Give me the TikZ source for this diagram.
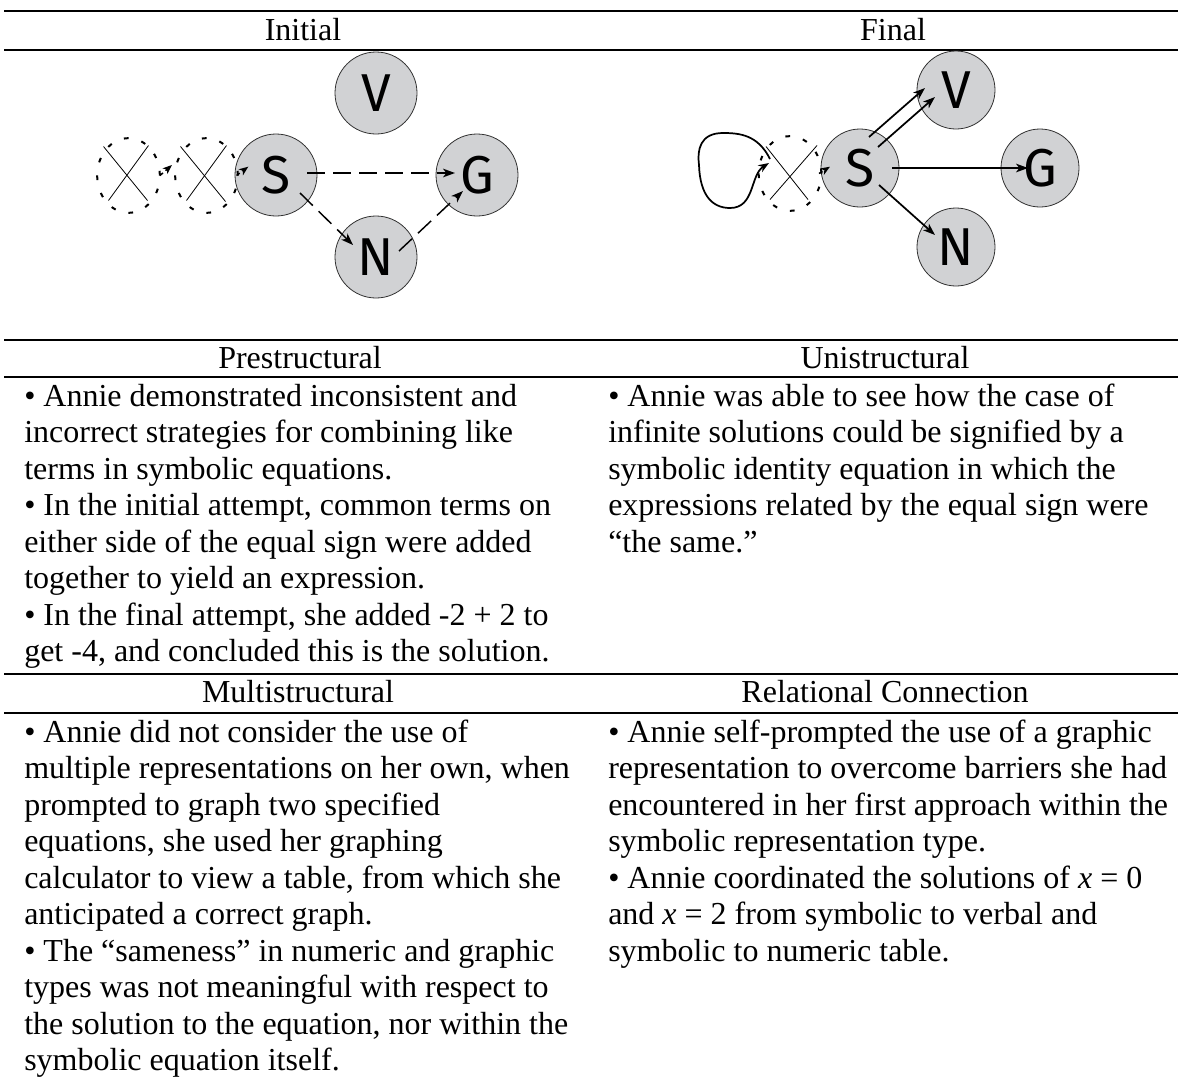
\documentclass[tikz,border=0pt]{standalone}
\usepackage{fontspec}
\setmainfont{Liberation Serif}
\newfontfamily\circfont{Fira Sans}
\usetikzlibrary{arrows.meta,shapes.geometric,calc}
\definecolor{circgray}{HTML}{D1D2D4}
\definecolor{circline}{HTML}{333333}
\begin{document}
\begin{tikzpicture}[x=0.75pt,y=-0.75pt,
  circ/.style={circle, draw=circline, line width=0.6pt, fill=circgray, minimum size=61.5pt, inner sep=0pt, font=\circfont\fontsize{40}{40}\selectfont},
  circf/.style={circ, minimum size=58.5pt},
  ghost/.style={ellipse, draw=black, line width=1.5pt, dash pattern=on 3.5pt off 10pt, minimum width=47pt, minimum height=56pt, inner sep=0pt},
  xline/.style={line width=0.6pt},
  darr/.style={line width=1.1pt, dash pattern=on 13.5pt off 6pt, -{Stealth[length=9pt,width=6.5pt,inset=2.5pt]}},
  sdarr/.style={line width=1.1pt, dash pattern=on 3pt off 2.5pt, -{Stealth[length=7pt,width=5.5pt,inset=2pt]}},
  sarr/.style={line width=1.3pt, -{Stealth[length=9pt,width=6.5pt,inset=2.5pt]}},
  tarr/.style={line width=0.8pt, -{Stealth[length=9pt,width=6.5pt,inset=2.5pt]}},
  larr/.style={line width=1.3pt, -{Stealth[length=8pt,width=6pt,inset=2.5pt]}},
  rulel/.style={line width=1.3pt},
  txt/.style={anchor=base west, inner sep=0pt, font=\fontsize{24}{27.4}\selectfont},
  hdr/.style={anchor=base, inner sep=0pt, font=\fontsize{24}{27.4}\selectfont}
]
\useasboundingbox[fill=white] (0,0) rectangle (1178,1078);

% rules
\coordinate (r1a) at (4,11);   \coordinate (r1b) at (1178,11);
\coordinate (r2a) at (4,50);   \coordinate (r2b) at (1178,50);
\coordinate (r3a) at (4,340);  \coordinate (r3b) at (1178,340);
\coordinate (r4a) at (4,377);  \coordinate (r4b) at (1178,377);
\coordinate (r5a) at (4,674);  \coordinate (r5b) at (1178,674);
\coordinate (r6a) at (4,713);  \coordinate (r6b) at (1178,713);
\draw[rulel] (r1a) -- (r1b);
\draw[rulel] (r2a) -- (r2b);
\draw[rulel] (r3a) -- (r3b);
\draw[rulel] (r4a) -- (r4b);
\draw[rulel] (r5a) -- (r5b);
\draw[rulel] (r6a) -- (r6b);

% headers
\node[hdr] (hInit) at (303,40) {Initial};
\node[hdr] (hFin) at (893,40) {Final};
\node[hdr] (hPre) at (300,368) {Prestructural};
\node[hdr] (hUni) at (885,368) {Unistructural};
\node[hdr] (hMul) at (298,702) {Multistructural};
\node[hdr] (hRel) at (885,702) {Relational Connection};

% ---------- Initial diagram ----------
\node[circ] (V1) at (376,93) {V};
\node[circ] (S1) at (276,175) {S};
\node[circ] (G1) at (477,175) {G};
\node[circ] (N1) at (376,257) {N};
\node[ghost] (X1) at (128.5,175.5) {};
\node[ghost] (X2) at (206.5,175.5) {};
\draw[xline] ($(X1)+(-25,-29)$) -- ($(X1)+(19,25)$);
\draw[xline] ($(X1)+(20,-30)$) -- ($(X1)+(-20,25)$);
\draw[xline] ($(X2)+(-26,-29)$) -- ($(X2)+(19,26)$);
\draw[xline] ($(X2)+(20,-30)$) -- ($(X2)+(-20,25)$);
\draw[sdarr] ($(X1)+(31.5,0)$) -- ($(X2)+(-34.5,-10.5)$);
\draw[sdarr] ($(X2)+(30,0)$) -- ($(S1)+(-27.7,-8.3)$);
\draw[darr] ($(S1)+(31,-2)$) -- ($(G1)+(-22,-2)$);
\draw[darr] ($(S1)+(24,18)$) -- ($(N1)+(-23,-12)$);
\draw[darr] ($(N1)+(23,-6)$) -- ($(G1)+(-14,16)$);

% ---------- Final diagram ----------
\node[circf] (V2) at (956,90) {V};
\node[circf] (S2) at (860,168) {S};
\node[circf] (G2) at (1040,168) {G};
\node[circf] (N2) at (956,247) {N};
\node[ghost] (X3) at (790,173.5) {};
\draw[xline] ($(X3)+(-24,-27)$) -- ($(X3)+(18,26)$);
\draw[xline] ($(X3)+(27,-28)$) -- ($(X3)+(-20,26)$);
\draw[larr] ($(X3)+(-20,-14.5)$) .. controls (758,135) and (740,133) .. (723,133)
  .. controls (700,133) and (697,150) .. (699,165)
  .. controls (700,195) and (712,208) .. (730,208)
  .. controls (755,208) and (750,175) .. ($(X3)+(-21,-10.5)$);
\draw[sdarr] ($(X3)+(29,0)$) -- ($(S2)+(-30,-1.3)$);
\draw[sarr] ($(S2)+(9,-31)$) -- ($(V2)+(-31,-2)$);
\draw[sarr] ($(S2)+(18,-21)$) -- ($(V2)+(-21,7)$);
\draw[tarr] ($(S2)+(32,0)$) -- ($(G2)+(-12,0)$);
\draw[sarr] ($(S2)+(19,17)$) -- ($(N2)+(-21,-12)$);

% ---------- Prestructural ----------
\node[txt] (p1) at (24,406)   {• Annie demonstrated inconsistent and};
\node[txt] (p2) at (24,442.5) {incorrect strategies for combining like};
\node[txt] (p3) at (24,479)   {terms in symbolic equations.};
\node[txt] (p4) at (24,515.5) {• In the initial attempt, common terms on};
\node[txt] (p5) at (24,552)   {either side of the equal sign were added};
\node[txt] (p6) at (24,588.5) {together to yield an expression.};
\node[txt] (p7) at (24,625)   {• In the final attempt, she added -2 + 2 to};
\node[txt] (p8) at (24,661.5) {get -4, and concluded this is the solution.};

% ---------- Unistructural ----------
\node[txt] (u1) at (608,406)   {• Annie was able to see how the case of};
\node[txt] (u2) at (608,442.5) {infinite solutions could be signified by a};
\node[txt] (u3) at (608,479)   {symbolic identity equation in which the};
\node[txt] (u4) at (608,515.5) {expressions related by the equal sign were};
\node[txt] (u5) at (608,552)   {“the same.”};

% ---------- Multistructural ----------
\node[txt] (m1)  at (24,742)   {• Annie did not consider the use of};
\node[txt] (m2)  at (24,778.5) {multiple representations on her own, when};
\node[txt] (m3)  at (24,815)   {prompted to graph two specified};
\node[txt] (m4)  at (24,851.5) {equations, she used her graphing};
\node[txt] (m5)  at (24,888)   {calculator to view a table, from which she};
\node[txt] (m6)  at (24,924.5) {anticipated a correct graph.};
\node[txt] (m7)  at (24,961)   {• The “sameness” in numeric and graphic};
\node[txt] (m8)  at (24,997.5) {types was not meaningful with respect to};
\node[txt] (m9)  at (24,1034)  {the solution to the equation, nor within the};
\node[txt] (m10) at (24,1070.5){symbolic equation itself.};

% ---------- Relational Connection ----------
\node[txt] (c1) at (608,742)   {• Annie self-prompted the use of a graphic};
\node[txt] (c2) at (608,778.5) {representation to overcome barriers she had};
\node[txt] (c3) at (608,815)   {encountered in her first approach within the};
\node[txt] (c4) at (608,851.5) {symbolic representation type.};
\node[txt] (c5) at (608,888)   {• Annie coordinated the solutions of \textit{x} = 0};
\node[txt] (c6) at (608,924.5) {and \textit{x} = 2 from symbolic to verbal and};
\node[txt] (c7) at (608,961)   {symbolic to numeric table.};
\end{tikzpicture}
\end{document}
